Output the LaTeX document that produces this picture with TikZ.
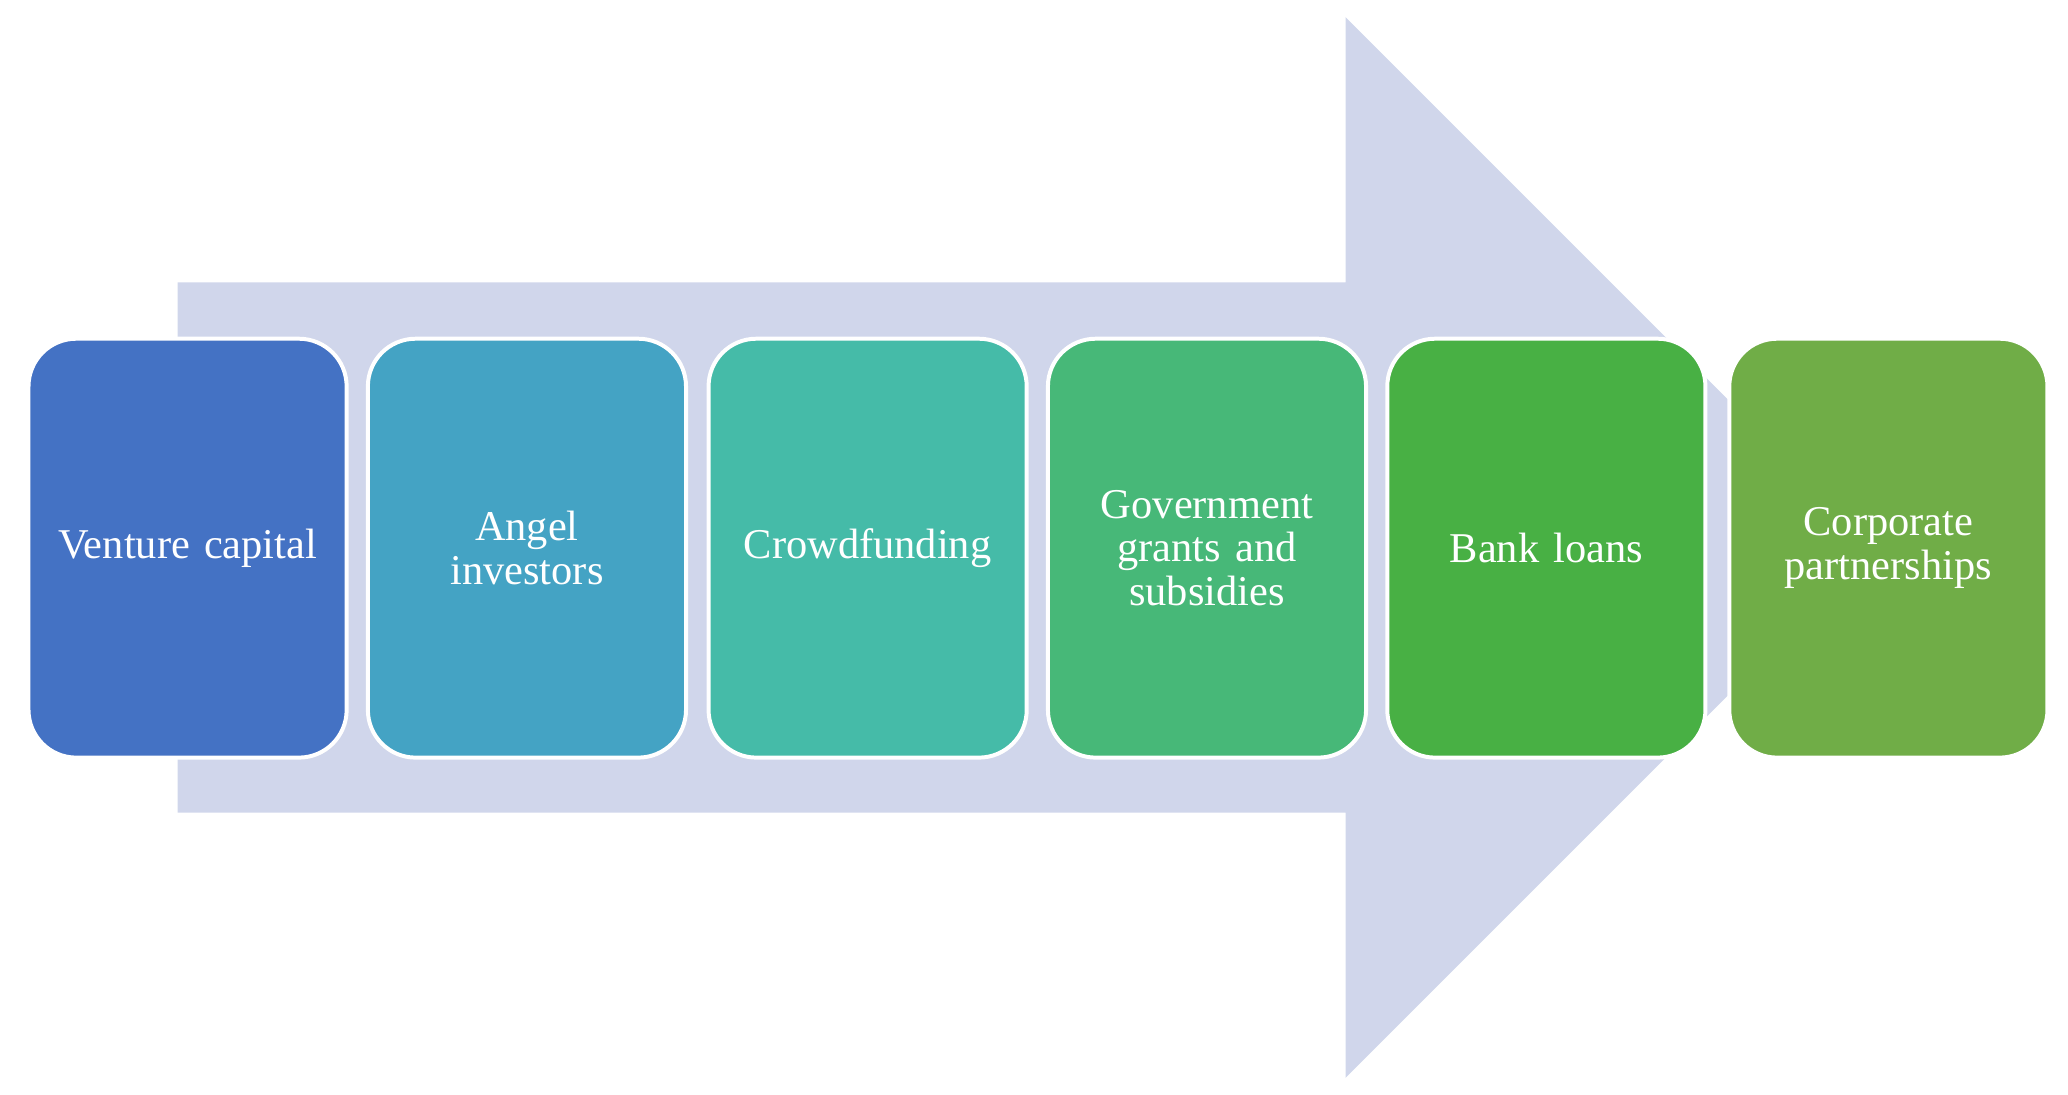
\documentclass[tikz,border=0pt]{standalone}
\usepackage{fontspec}
\setmainfont{Liberation Serif}
\begin{document}
\begin{tikzpicture}[x=0.5pt,y=-0.5pt,
  box/.style={draw=white,line width=1.5pt,rounded corners=18pt,minimum width=120pt,minimum height=158pt,text width=112pt,align=center,text=white,font=\fontsize{16}{16.5}\selectfont,anchor=north west,inner sep=0pt}]
\useasboundingbox (0,0) rectangle (1560,826);
\definecolor{arr}{HTML}{D0D6EB}
\definecolor{c1}{HTML}{4472C4}
\definecolor{c2}{HTML}{44A3C4}
\definecolor{c3}{HTML}{45BBA8}
\definecolor{c4}{HTML}{47B878}
\definecolor{c5}{HTML}{48B044}
\definecolor{c6}{HTML}{70AD47}
\fill[arr] (134,213) -- (1015,213) -- (1015,13) -- (1415,413) -- (1015,813) -- (1015,613) -- (134,613) -- cycle;
\node[box,fill=c1] (a) at (20,254) {Venture capital};
\node[box,fill=c2] (b) at (276,254) {Angel\\investors};
\node[box,fill=c3] (c) at (533,254) {Crowdfunding};
\node[box,fill=c4] (d) at (789,254) {Government\\grants and\\subsidies};
\node[box,fill=c5] (e) at (1045,254) {Bank loans};
\node[box,fill=c6] (f) at (1303,254) {Corporate\\partnerships};
\end{tikzpicture}
\end{document}
